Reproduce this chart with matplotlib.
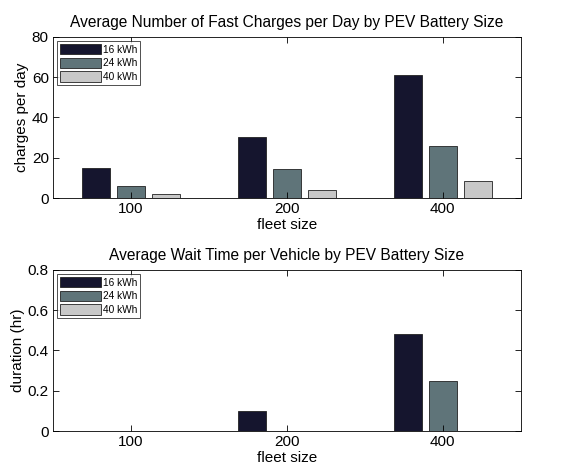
import numpy as np
import matplotlib.pyplot as plt

plt.rcParams['font.family'] = ['Liberation Sans', 'DejaVu Sans']

# --- data ---
fleet_sizes = ["100", "200", "400"]
battery_labels = ["16 kWh", "24 kWh", "40 kWh"]
charges_16 = [14.8, 30.4, 60.9]
charges_24 = [6.1, 14.3, 25.8]
charges_40 = [2.0, 3.8, 8.6]
wait_16 = [0.0, 0.10, 0.483]
wait_24 = [0.0, 0.0, 0.249]
wait_40 = [0.0, 0.0, 0.0]

colors = ["#15152e", "#5f7479", "#c8c8c8"]

fig = plt.figure(figsize=(5.67, 4.71), dpi=100)
ax1 = fig.add_axes([0.0935, 0.5796, 0.825, 0.342])
ax2 = fig.add_axes([0.0935, 0.0849, 0.825, 0.342])

x = np.arange(1, len(fleet_sizes) + 1)
width = 0.18
offsets = [-0.225, 0.0, 0.225]


def draw(ax, series, title, ylabel, ylim, yticks, yticklabels):
    for vals, off, col, lab in zip(series, offsets, colors, battery_labels):
        ax.bar(x + off, vals, width, color=col, edgecolor="#222222",
               linewidth=0.6, label=lab)
    ax.set_xlim(0.5, 3.5)
    ax.set_ylim(*ylim)
    ax.set_xticks(x)
    ax.set_xticklabels(fleet_sizes)
    ax.set_yticks(yticks)
    ax.set_yticklabels(yticklabels)
    ax.tick_params(direction="in", top=True, right=True, labelsize=11,
                   length=4, width=0.6, pad=3)
    for s in ax.spines.values():
        s.set_linewidth(0.6)
    ax.set_title(title, fontsize=11.2, pad=7)
    ax.set_xlabel("fleet size", fontsize=11, labelpad=1)
    ax.set_ylabel(ylabel, fontsize=11, labelpad=2)
    leg = ax.legend(loc="upper left", fontsize=7.3, frameon=True, fancybox=False,
                    handlelength=4.0, handleheight=1.2, handletextpad=0.2,
                    borderpad=0.3, labelspacing=0.3, borderaxespad=0.4)
    leg.get_frame().set_edgecolor("black")
    leg.get_frame().set_linewidth(0.6)


draw(ax1, [charges_16, charges_24, charges_40],
     "Average Number of Fast Charges per Day by PEV Battery Size",
     "charges per day", (0, 80), [0, 20, 40, 60, 80],
     ["0", "20", "40", "60", "80"])
draw(ax2, [wait_16, wait_24, wait_40],
     "Average Wait Time per Vehicle by PEV Battery Size",
     "duration (hr)", (0, 0.8), [0, 0.2, 0.4, 0.6, 0.8],
     ["0", "0.2", "0.4", "0.6", "0.8"])

fig.savefig("out.png", dpi=100)
